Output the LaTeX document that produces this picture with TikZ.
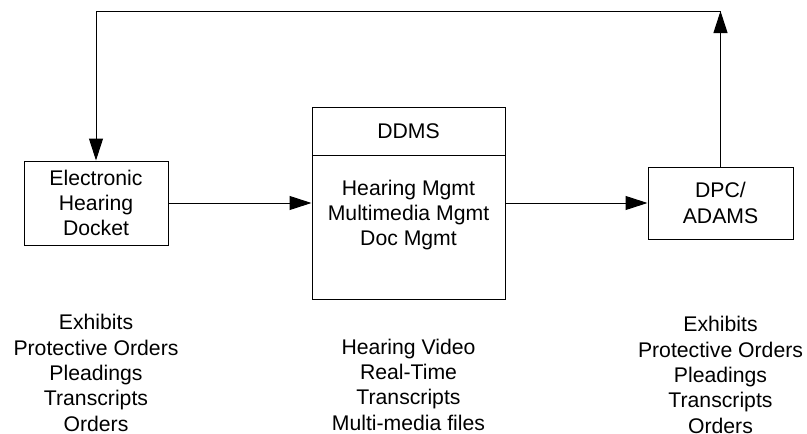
\documentclass[tikz,border=0pt]{standalone}
\usepackage{fontspec}
\setmainfont{Liberation Sans}
\usetikzlibrary{arrows.meta}
\newcommand\diafs{\fontsize{21.2}{25.3}\selectfont}
\begin{document}
\begin{tikzpicture}[x=1pt,y=-1pt,
  box/.style={draw=black, line width=1pt, inner sep=0pt, align=center, font=\diafs},
  txt/.style={inner sep=0pt, align=center, font=\diafs},
  conn/.style={line width=1pt, -{Triangle[length=22pt,width=14pt]}}]
\useasboundingbox (0,0) rectangle (807,434);
\node[box, minimum width=144pt, minimum height=84pt] (ehd) at (96,203) {Electronic\\Hearing\\Docket};
\node[box, minimum width=193pt, minimum height=48pt] (ddmshead) at (408.5,131) {DDMS};
\node[box, minimum width=193pt, minimum height=144pt] (ddms) at (408.5,227) {};
\node[txt] (ddmstext) at (408.5,215) {Hearing Mgmt\\Multimedia Mgmt\\Doc Mgmt};
\node[box, minimum width=145pt, minimum height=72pt] (dpc) at (720.5,203) {DPC/\\ADAMS};
\coordinate (top) at (720.5,11);
\coordinate (topl) at (96,11);
\draw[conn] (ehd.east) -- (ehd.east -| ddms.west);
\draw[conn] (dpc.west -| ddms.east) -- (dpc.west);
\draw[conn] (dpc.north) -- (top);
\draw[conn] (top) -- (topl) -- (ehd.north);
\node[txt] (leftlist) at (96,373) {Exhibits\\Protective Orders\\Pleadings\\Transcripts\\Orders};
\node[txt] (midlist) at (408.5,384.5) {Hearing Video\\Real-Time\\Transcripts\\Multi-media files};
\node[txt] (rightlist) at (720.5,375) {Exhibits\\Protective Orders\\Pleadings\\Transcripts\\Orders};
\end{tikzpicture}
\end{document}
